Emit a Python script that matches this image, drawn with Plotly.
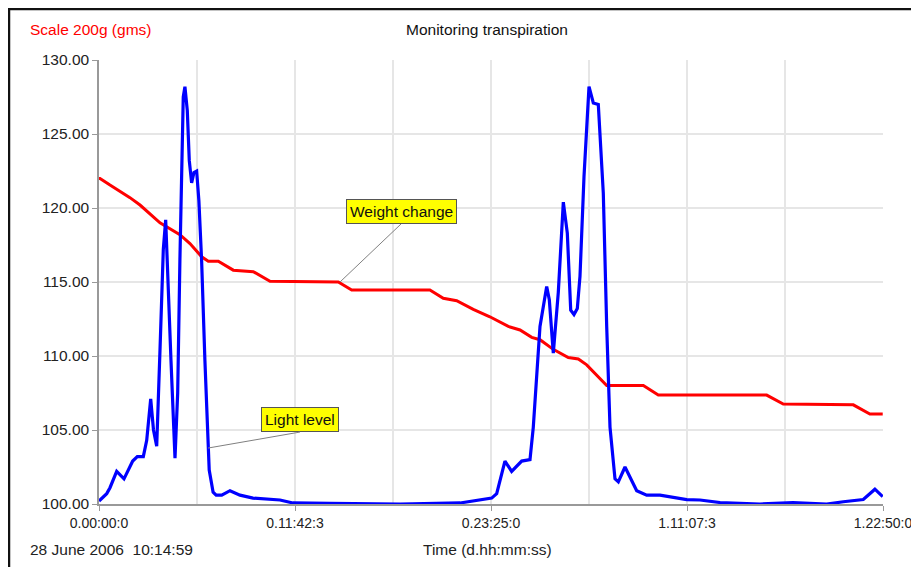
import plotly.graph_objects as go

# ---- data (time in minutes since start) ----
light_t = [0, 27.6, 39.4, 63.4, 89.6, 120.8, 137.3, 158.8, 171, 185.3, 195.3, 206.8,
           218.6, 230.5, 239, 248.3, 258, 272.4, 282, 290, 296, 302, 308, 316.4, 323.6,
           332, 340.3, 350, 358, 367.7, 379.6, 387.8, 395, 409, 420, 439.8, 469.5, 505.4,
           552, 648.7, 695.3, 828, 1079, 1294, 1365.6, 1407.5, 1425.4, 1455, 1479, 1515,
           1544.8, 1556.6, 1580.6, 1604.6, 1614, 1628.3, 1646.2, 1664.2, 1678.5, 1690.7,
           1702.5, 1714.3, 1724, 1738.3, 1756.3, 1771.7, 1789.6, 1807.5, 1819.7, 1831.5,
           1849.4, 1861.3, 1885.3, 1903.2, 1927.2, 1963, 2010.7, 2106.4, 2154, 2226, 2369,
           2487.4, 2608, 2667.7, 2739.4, 2781, 2809]
light_v = [100.2, 100.7, 101.1, 102.2, 101.7, 102.9, 103.2, 103.2, 104.3, 107.1, 105.0, 103.9,
           110.4, 117.2, 119.2, 114.2, 109.7, 103.1, 107.5, 116.5, 123.2, 127.5, 128.2, 126.6, 123.2,
           121.7, 122.4, 122.5, 120.5, 116.5, 109.7, 105.2, 102.3, 100.8, 100.6, 100.6, 100.9, 100.6,
           100.4, 100.27, 100.07, 100.05, 100.0, 100.07, 100.27, 100.4, 100.7, 102.9, 102.2, 102.9,
           103.0, 105.2, 112.0, 114.7, 113.8, 110.2, 114.3, 120.4, 118.3, 113.1,
           112.8, 113.2, 115.4, 122.1, 128.2, 127.1, 127.0, 121.0, 112.0, 105.2,
           101.7, 101.5, 102.5, 101.8, 100.9, 100.6, 100.6, 100.3, 100.27, 100.1, 100.0,
           100.1, 100.0, 100.15, 100.3, 101.0, 100.5]

weight_t = [0, 3.6, 39.4, 87, 111, 147, 218.6, 290, 326, 368, 391.7, 427.6, 481.3, 553, 613,
            857.7, 905.7, 1186, 1234, 1282, 1341.5, 1401, 1467, 1509, 1551, 1580.6, 1628,
            1682, 1718, 1748, 1819.7, 1951, 2004.6, 2393, 2452.6, 2703.5, 2763, 2809]
weight_v = [122.0, 122.0, 121.55, 121.0, 120.7, 120.2, 119.0, 118.2, 117.6, 116.7, 116.4, 116.4,
            115.8, 115.7, 115.05, 115.0, 114.46, 114.46, 113.9, 113.74, 113.15, 112.65, 112.0,
            111.76, 111.26, 111.1, 110.45, 109.9, 109.8, 109.4, 108.0, 108.0, 107.36, 107.36,
            106.76, 106.7, 106.08, 106.08]

x_tickvals = [0, 702.5, 1405, 2107.5, 2810]
x_ticktext = ["0.00:00:0", "0.11:42:3", "0.23:25:0", "1.11:07:3", "1.22:50:0"]
y_tickvals = [100, 105, 110, 115, 120, 125, 130]
y_ticktext = ["100.00", "105.00", "110.00", "115.00", "120.00", "125.00", "130.00"]

FONT = "Liberation Sans, Arial, sans-serif"

fig = go.Figure()
fig.add_trace(go.Scatter(x=weight_t, y=weight_v, mode="lines",
                         line=dict(color="#ff0000", width=3), name="Weight change"))
fig.add_trace(go.Scatter(x=light_t, y=light_v, mode="lines",
                         line=dict(color="#0000ff", width=3.2), name="Light level"))

fig.update_layout(
    width=919, height=567,
    margin=dict(l=91, r=44, t=52, b=71),
    paper_bgcolor="white", plot_bgcolor="white",
    showlegend=False,
    font=dict(family=FONT, color="#222222"),
    xaxis=dict(range=[0, 2810], tickvals=x_tickvals, ticktext=x_ticktext,
               showgrid=True, gridcolor="#e6e6e6", gridwidth=1.5,
               minor=dict(dtick=351.25, tick0=0, showgrid=True, gridcolor="#e6e6e6", gridwidth=1.5),
               showline=True, linecolor="#999999", linewidth=1.5,
               ticks="outside", ticklen=5, tickcolor="#999999",
               tickfont=dict(size=14, color="#222222"), zeroline=False, fixedrange=True),
    yaxis=dict(range=[100, 130], tickvals=y_tickvals, ticktext=y_ticktext,
               showgrid=True, gridcolor="#e6e6e6", gridwidth=1.5,
               showline=True, linecolor="#999999", linewidth=1.5,
               ticks="outside", ticklen=5, tickcolor="#999999",
               tickfont=dict(size=15.5, color="#222222"), zeroline=False, fixedrange=True),
)

# outer black frame (extends past the right and bottom of the picture)
fig.add_shape(type="rect", xref="paper", yref="paper",
              x0=-0.1148, x1=1.3, y0=-0.4, y1=1.1149,
              line=dict(color="#111111", width=2.5), fillcolor="rgba(0,0,0,0)")

# header / footer texts
fig.add_annotation(xref="paper", yref="paper", x=-0.0906, y=1.0676, xanchor="left", yanchor="middle",
                   text="Scale 200g (gms)", showarrow=False, font=dict(size=15.5, color="#ff0000"))
fig.add_annotation(xref="paper", yref="paper", x=0.4949, y=1.0676, xanchor="center", yanchor="middle",
                   text="Monitoring transpiration", showarrow=False, font=dict(size=15.5, color="#111111"))
fig.add_annotation(xref="paper", yref="paper", x=-0.0906, y=-0.1014, xanchor="left", yanchor="middle",
                   text="28 June 2006  10:14:59", showarrow=False, font=dict(size=15.5, color="#222222"))
fig.add_annotation(xref="paper", yref="paper", x=0.4949, y=-0.1014, xanchor="center", yanchor="middle",
                   text="Time (d.hh:mm:ss)", showarrow=False, font=dict(size=15.5, color="#222222"))

# callouts (leader line ends at the bottom-centre of each box)
fig.add_annotation(x=863.8, y=115.0, text="Weight change", showarrow=True, arrowhead=0,
                   arrowcolor="#808080", arrowwidth=1, ax=61, ay=-58,
                   xanchor="center", yanchor="bottom",
                   bgcolor="#ffff00", bordercolor="#555555", borderwidth=1, borderpad=3,
                   font=dict(size=15.5, color="#111111"))
fig.add_annotation(x=390.7, y=103.78, text="Light level", showarrow=True, arrowhead=0,
                   arrowcolor="#808080", arrowwidth=1, ax=92, ay=-16,
                   xanchor="center", yanchor="bottom",
                   bgcolor="#ffff00", bordercolor="#555555", borderwidth=1, borderpad=3,
                   font=dict(size=15.5, color="#111111"))

fig.write_html("out.html")
